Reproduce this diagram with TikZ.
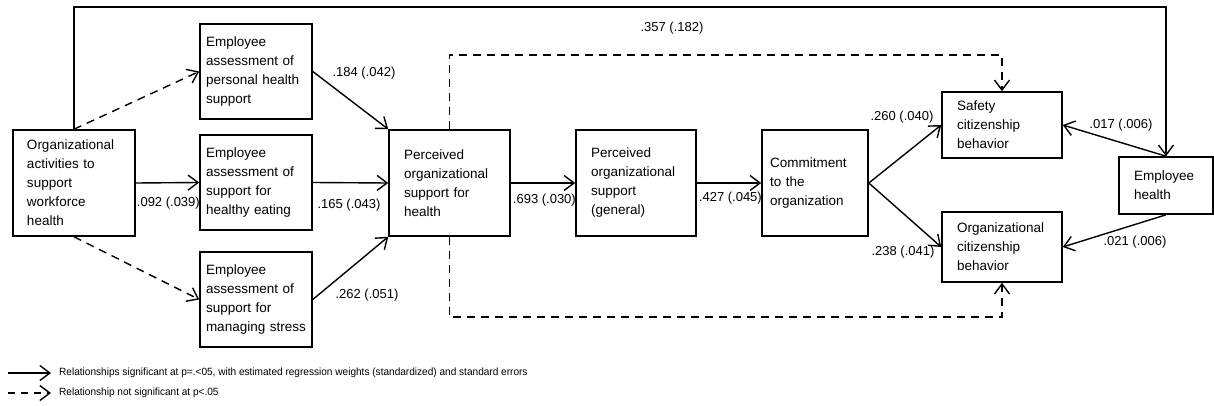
\documentclass[tikz,border=0pt]{standalone}
\usepackage{fontspec}
\setmainfont{Liberation Sans}
\newfontfamily\legfam[FakeStretch=0.96]{Liberation Sans}
\usetikzlibrary{arrows.meta}
\newcommand{\boxfont}{\fontsize{13.5}{19}\selectfont}
\newcommand{\labfont}{\fontsize{13}{15}\selectfont}
\newcommand{\legfont}{\legfam\fontsize{10.5}{12}\selectfont}
\begin{document}
\begin{tikzpicture}[x=1pt,y=-1pt,
  box/.style={draw,line width=1.6pt,align=left,font=\boxfont,inner ysep=0pt},
  sig/.style={line width=1.4pt,-{Straight Barb[length=10pt,width=15pt,line width=1.4pt]}},
  nsig/.style={sig,dash pattern=on 8pt off 6pt},
  lab/.style={font=\labfont,inner sep=0pt},
  leg/.style={font=\legfont,inner sep=0pt,anchor=west}]
\useasboundingbox (0,0) rectangle (1214,406);
% boxes
\node[box,minimum height=106pt,inner xsep=14pt,text width=94pt] (org) at (74,183)
  {Organizational\\activities to\\support\\workforce\\health};
\node[box,minimum height=95pt,inner xsep=6pt,text width=100pt] (pers) at (256,71.5)
  {Employee\\assessment of\\personal health\\support};
\node[box,minimum height=95pt,inner xsep=6pt,text width=100pt] (eat) at (256,182.5)
  {Employee\\assessment of\\support for\\healthy eating};
\node[box,minimum height=95pt,inner xsep=6pt,text width=100pt] (stress) at (256,299.5)
  {Employee\\assessment of\\support for\\\mbox{managing stress}};
\node[box,minimum height=106pt,inner xsep=15pt,text width=91pt] (posh) at (449.5,183)
  {Perceived\\organizational\\support for\\health};
\node[box,minimum height=106pt,inner xsep=15pt,text width=90pt] (posg) at (636,183)
  {Perceived\\organizational\\support\\(general)};
\node[box,minimum height=106pt,inner xsep=8pt,text width=90pt] (commit) at (815,183)
  {Commitment\\to the\\organization};
\node[box,minimum height=66pt,inner xsep=15pt,text width=90pt] (safety) at (1002,125)
  {Safety\\citizenship\\behavior};
\node[box,minimum height=70pt,inner xsep=15pt,text width=90pt] (ocb) at (1002,247)
  {Organizational\\citizenship\\behavior};
\node[box,minimum height=57pt,inner xsep=15pt,text width=64pt] (emph) at (1166,185.5)
  {Employee\\health};
% helper coordinates
\coordinate (tr) at (1166,7);
\coordinate (dt) at (1002,55);
\coordinate (db) at (1002,317);
% connectors
\draw[sig] (org.north) |- (tr) -- (emph.north);
\draw[nsig] (org.north) -- (pers.west);
\draw[sig] (org.east) -- (eat.west);
\draw[nsig] (org.south) -- (stress.west);
\draw[sig] (pers.east) -- (posh.north west);
\draw[sig] (eat.east) -- (posh.west);
\draw[sig] (stress.east) -- (posh.south west);
\draw[sig] (posh.east) -- (posg.west);
\draw[sig] (posg.east) -- (commit.west);
\draw[sig] (commit.east) -- (safety.west);
\draw[sig] (commit.east) -- (ocb.west);
\draw[nsig] (posh.north) |- (dt) -- (safety.north);
\draw[nsig] (posh.south) |- (db) -- (ocb.south);
\draw[sig] (emph.north) -- (safety.east);
\draw[sig] (emph.south) -- (ocb.east);
% labels
\node[lab] (l1) at (364,73) {.184 (.042)};
\node[lab,anchor=east] (l2) at (200,203) {.092 (.039)};
\node[lab] (l3) at (349,205) {.165 (.043)};
\node[lab] (l4) at (367,295) {.262 (.051)};
\node[lab,anchor=east] (l5) at (576,200) {.693 (.030)};
\node[lab,anchor=east] (l6) at (762,198) {.427 (.045)};
\node[lab] (l7) at (672,28) {.357 (.182)};
\node[lab] (l8) at (902,117) {.260 (.040)};
\node[lab] (l9) at (903,252) {.238 (.041)};
\node[lab] (l10) at (1121,125) {.017 (.006)};
\node[lab] (l11) at (1135,242) {.021 (.006)};
% legend
\coordinate (ls1) at (8,373);
\coordinate (le1) at (51,373);
\coordinate (ls2) at (8,393);
\coordinate (le2) at (51,393);
\draw[sig] (ls1) -- (le1);
\draw[nsig,dash pattern=on 7pt off 6pt] (ls2) -- (le2);
\node[leg] (t1) at (59,373) {Relationships significant\ at p=.<05, with estimated\ regression weights (standardized) and standard errors};
\node[leg] (t2) at (59,393) {Relationship not significant\ at p<.05};
\end{tikzpicture}
\end{document}
